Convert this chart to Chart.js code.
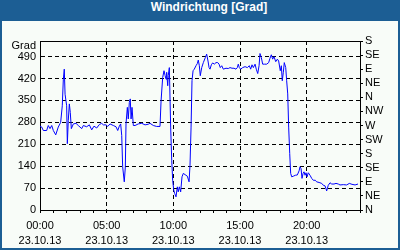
<!DOCTYPE html>
<html>
<head>
<meta charset="utf-8">
<script src="https://cdn.jsdelivr.net/npm/chart.js@4.4.1/dist/chart.umd.min.js"></script>
<style>
  html, body { margin: 0; padding: 0; background: #ffffff; }
  #frame { position: absolute; left: 0; top: 0; width: 400px; height: 250px; background: #1c5e94; }
  #title { position: absolute; left: 18px; top: 0; width: 382px; height: 21px; line-height: 21px;
           text-align: center; color: #ffffff; font: bold 12px "Liberation Sans", Arial, sans-serif; }
  #inner { position: absolute; left: 2px; top: 21px; width: 396px; height: 227px; background: #f8fcf8; }
  canvas { display: block; }
</style>
</head>
<body>
<div id="frame">
  <div id="title">Windrichtung [Grad]</div>
  <div id="inner"><canvas id="c" width="396" height="227"></canvas></div>
</div>
<script>
// ---- data (hours of day, wind direction in degrees) ----
const hours = [
  0, 0.13, 0.25, 0.50, 0.62, 0.75, 0.88, 1.00, 1.18, 1.37, 1.55, 1.67, 1.75, 1.82, 1.88, 2.00,
  2.05, 2.12, 2.20, 2.27, 2.35, 2.50, 2.70, 2.87, 3.13, 3.25, 3.50, 3.70, 3.88, 4.05, 4.25, 4.45,
  4.63, 4.75, 4.95, 5.08, 5.25, 5.50, 5.70, 5.83, 5.95, 6.05, 6.13, 6.20, 6.32, 6.40, 6.45, 6.55,
  6.62, 6.70, 6.77, 6.83, 6.90, 7.00, 7.13, 7.37, 7.63, 7.88, 8.12, 8.25, 8.50, 8.75, 9.00, 9.08,
  9.20, 9.30, 9.38, 9.45, 9.50, 9.58, 9.62, 9.70, 9.80, 9.88, 9.95, 10.03, 10.10, 10.20, 10.30, 10.37,
  10.45, 10.55, 10.65, 10.75, 10.88, 11.05, 11.18, 11.25, 11.33, 11.40, 11.48, 11.57, 11.70, 11.80, 11.87, 11.95,
  12.02, 12.13, 12.25, 12.40, 12.50, 12.60, 12.68, 12.75, 12.85, 12.95, 13.07, 13.20, 13.33, 13.43, 13.52, 13.63,
  13.75, 13.95, 14.12, 14.25, 14.40, 14.55, 14.70, 14.80, 14.87, 14.95, 15.05, 15.20, 15.38, 15.55, 15.70, 15.80,
  15.90, 16.00, 16.13, 16.22, 16.33, 16.43, 16.50, 16.60, 16.70, 16.85, 17.00, 17.15, 17.25, 17.35, 17.45, 17.55,
  17.68, 17.80, 17.90, 18.02, 18.10, 18.17, 18.25, 18.32, 18.43, 18.50, 18.58, 18.65, 18.73, 18.80, 18.88, 19.00,
  19.15, 19.30, 19.43, 19.50, 19.58, 19.65, 19.73, 19.80, 19.88, 19.95, 20.03, 20.12, 20.25, 20.38, 20.50, 20.65,
  20.75, 20.93, 21.13, 21.25, 21.38, 21.50, 21.62, 21.75, 21.88, 22.05, 22.20, 22.37, 22.50, 22.75, 23.00, 23.20,
  23.40, 23.63, 23.85
];
const degrees = [
  268, 265, 254, 254, 270, 260, 270, 254, 240, 265, 280, 333, 418, 450, 370, 333,
  212, 286, 339, 312, 260, 275, 277, 270, 260, 270, 266, 272, 256, 268, 262, 273,
  277, 272, 272, 267, 275, 270, 266, 254, 268, 275, 238, 138, 90, 138, 275, 328,
  291, 344, 355, 291, 328, 270, 270, 275, 277, 272, 274, 277, 270, 267, 267, 349,
  423, 445, 430, 418, 440, 397, 430, 455, 265, 159, 95, 64, 53, 42, 74, 58,
  74, 58, 106, 117, 113, 108, 90, 143, 265, 413, 445, 450, 461, 468, 479, 461,
  429, 455, 471, 487, 498, 476, 455, 450, 464, 470, 466, 471, 471, 466, 455, 461,
  450, 453, 452, 455, 453, 453, 450, 455, 466, 455, 450, 455, 458, 455, 461, 450,
  464, 455, 466, 450, 436, 461, 500, 487, 466, 466, 466, 471, 485, 496, 482, 490,
  474, 482, 476, 445, 461, 413, 440, 471, 455, 413, 371, 265, 180, 117, 106, 108,
  111, 112, 125, 138, 132, 101, 117, 122, 111, 119, 106, 119, 111, 101, 95, 95,
  90, 88, 85, 79, 77, 61, 79, 87, 83, 83, 85, 83, 80, 81, 80, 85,
  82, 80, 83
];
const hourTicks = [0,1,2,3,4,5,6,7,8,9,10,11,12,13,14,15,16,17,18,19,20,21,22,23,24];
const labelledHours = [0, 5, 10, 15, 20];
const dateLabel = '23.10.13';
const degreeTicks = [0, 70, 140, 210, 280, 350, 420, 490];
const compassTicks = [0, 45, 90, 135, 180, 225, 270, 315, 360, 405, 450, 495, 540];
const compassLabels = ['N','NE','E','SE','S','SW','W','NW','N','NE','E','SE','S'];
const unitLabel = 'Grad';

const FONT = { family: '"Liberation Sans", Arial, sans-serif', size: 11, lineHeight: 15/11 };

const unitPlugin = {
  id: 'unitLabel',
  afterDraw(chart) {
    const ctx = chart.ctx, a = chart.chartArea, ys = chart.scales.y;
    ctx.save();
    ctx.font = '11px ' + FONT.family;
    ctx.fillStyle = '#000';
    ctx.textAlign = 'right';
    ctx.textBaseline = 'middle';
    ctx.fillText(unitLabel, ys.right - 4, a.top + 5);
    ctx.restore();
  },
  beforeDatasetsDraw(chart) {
    const ctx = chart.ctx, a = chart.chartArea;
    ctx.save();
    ctx.strokeStyle = '#000';
    ctx.lineWidth = 1;
    ctx.beginPath();
    ctx.moveTo(a.left, Math.round(a.top) + 0.5);
    ctx.lineTo(a.right, Math.round(a.top) + 0.5);
    ctx.stroke();
    ctx.restore();
  }
};

new Chart(document.getElementById('c'), {
  type: 'line',
  data: {
    datasets: [{
      data: hours.map((h, i) => ({ x: h, y: degrees[i] })),
      borderColor: '#0000ff',
      borderWidth: 1,
      pointRadius: 0,
      tension: 0,
      fill: false
    }]
  },
  plugins: [unitPlugin],
  options: {
    responsive: false,
    devicePixelRatio: 1,
    animation: false,
    layout: { padding: { top: 20, left: 0, right: 0, bottom: 0 } },
    plugins: { legend: { display: false }, tooltip: { enabled: false } },
    scales: {
      x: {
        type: 'linear', position: 'bottom', min: 0, max: 24,
        afterBuildTicks: s => { s.ticks = hourTicks.map(v => ({ value: v })); },
        afterFit: s => { s.height = 38; },
        ticks: {
          autoSkip: false, maxRotation: 0, minRotation: 0, padding: 5,
          color: '#000', font: FONT,
          callback: v => labelledHours.includes(v) ? [String(v).padStart(2, '0') + ':00', dateLabel] : ''
        },
        grid: {
          color: c => (c.tick && labelledHours.includes(c.tick.value) && c.tick.value > 0) ? '#000' : 'rgba(0,0,0,0)',
          tickColor: '#000', tickLength: 3, lineWidth: 1, borderDash: [4, 3]
        },
        border: { color: '#000', width: 1, dash: [4, 3] }
      },
      y: {
        type: 'linear', position: 'left', min: 0, max: 540,
        afterBuildTicks: s => { s.ticks = degreeTicks.map(v => ({ value: v })); },
        afterFit: s => { s.width = 38; },
        ticks: { autoSkip: false, padding: 4, color: '#000', font: FONT },
        grid: { color: '#000', drawTicks: false, lineWidth: 1, borderDash: [4, 3] },
        border: { color: '#000', width: 1, dash: [4, 3] }
      },
      y2: {
        type: 'linear', position: 'right', min: 0, max: 540,
        afterBuildTicks: s => { s.ticks = compassTicks.map(v => ({ value: v })); },
        afterFit: s => { s.width = 38; },
        ticks: {
          autoSkip: false, padding: 2, color: '#000', font: FONT,
          callback: v => compassLabels[compassTicks.indexOf(v)]
        },
        grid: { drawOnChartArea: false, color: '#000', tickColor: '#000', tickLength: 3, lineWidth: 1 },
        border: { color: '#000', width: 1 }
      }
    }
  }
});
</script>
</body>
</html>
